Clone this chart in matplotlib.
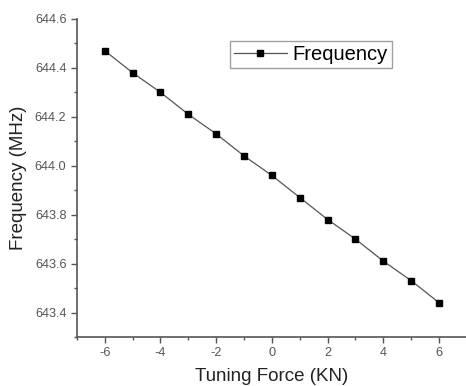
import numpy as np
import matplotlib
matplotlib.use("Agg")
import matplotlib.pyplot as plt
from matplotlib.ticker import MultipleLocator

plt.rcParams['font.family'] = ['Liberation Sans', 'DejaVu Sans']
plt.rcParams['axes.unicode_minus'] = False

# tuning force (KN) and measured frequency (MHz)
force = [-6, -5, -4, -3, -2, -1, 0, 1, 2, 3, 4, 5, 6]
freq = [644.47, 644.38, 644.30, 644.21, 644.13, 644.04, 643.96,
        643.87, 643.78, 643.70, 643.61, 643.53, 643.44]

fig = plt.figure(figsize=(4.66, 3.86), dpi=100)
ax = fig.add_axes([0.165, 0.127, 0.837, 0.824])

ax.plot(force, freq, color='#555555', linewidth=0.9, marker='s',
        markersize=5, markerfacecolor='black', markeredgecolor='black',
        label='Frequency')

ax.set_xlim(-7, 7)
ax.set_ylim(643.3, 644.6)
ax.xaxis.set_major_locator(MultipleLocator(2))
ax.xaxis.set_minor_locator(MultipleLocator(1))
ax.yaxis.set_major_locator(MultipleLocator(0.2))
ax.yaxis.set_minor_locator(MultipleLocator(0.1))

for s in ['top', 'right']:
    ax.spines[s].set_visible(False)
for s in ['left', 'bottom']:
    ax.spines[s].set_color('#555555')
    ax.spines[s].set_linewidth(1.2)

ax.tick_params(which='major', direction='out', length=4, width=1, color='#555555',
               labelsize=9.2, labelcolor='#555555')
ax.tick_params(which='minor', direction='out', length=2.5, width=1, color='#555555')
ax.yaxis.set_major_formatter(plt.FormatStrFormatter('%.1f'))

ax.set_xlabel('Tuning Force (KN)', fontsize=13.5, color='#222222', labelpad=6)
ax.set_ylabel('Frequency (MHz)', fontsize=13.5, color='#222222', labelpad=6)

leg = ax.legend(loc='upper left', bbox_to_anchor=(0.393, 0.93), fontsize=14.5,
                fancybox=False, handlelength=2.6, borderpad=0.2,
                handletextpad=0.3, borderaxespad=0)
leg.get_frame().set_edgecolor('#888888')
leg.get_frame().set_linewidth(1)

fig.savefig('out.png', dpi=100)
